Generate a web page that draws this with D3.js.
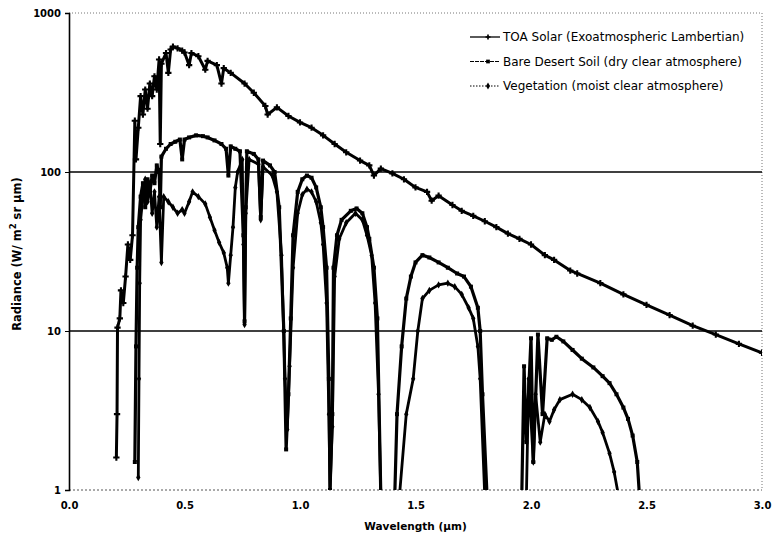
<!DOCTYPE html>
<html>
<head>
<meta charset="utf-8">
<script src="https://cdn.jsdelivr.net/npm/d3@7"></script>
<style>
  body { margin: 0; background: #fff; }
  text { font-family: "DejaVu Sans", Verdana, sans-serif; }
</style>
</head>
<body>
<svg class="chart"></svg>
<script>
// Series data (wavelength in um, radiance)
// values under 1 sit below the axis: the curve drops out of the plot there
var toaWl = [0.205, 0.208, 0.21, 0.22, 0.225, 0.235, 0.245, 0.255, 0.265, 0.275, 0.285, 0.29, 0.30, 0.31, 0.32, 0.33, 0.34, 0.35, 0.36, 0.37, 0.38, 0.39, 0.395, 0.40, 0.42, 0.43, 0.44, 0.45, 0.47, 0.49, 0.50, 0.52, 0.53, 0.56, 0.59, 0.60, 0.64, 0.66, 0.67, 0.70, 0.76, 0.80, 0.85, 0.86, 0.90, 0.95, 1.00, 1.05, 1.10, 1.15, 1.20, 1.26, 1.30, 1.32, 1.35, 1.40, 1.45, 1.50, 1.55, 1.57, 1.60, 1.66, 1.70, 1.75, 1.80, 1.85, 1.90, 1.95, 2.00, 2.06, 2.10, 2.17, 2.20, 2.30, 2.40, 2.50, 2.60, 2.70, 2.80, 2.90, 3.00];
var toaVal = [1.6, 3, 10.5, 12, 18, 15, 22, 35, 28, 40, 210, 120, 190, 300, 230, 330, 250, 360, 300, 400, 330, 510, 150, 480, 560, 420, 590, 615, 600, 580, 565, 470, 560, 535, 440, 500, 470, 360, 450, 420, 360, 315, 260, 230, 255, 225, 205, 190, 170, 150, 133, 118, 110, 95, 105, 98, 90, 80, 75, 66, 71, 62, 57, 53, 49, 45, 41, 38, 35, 30, 28, 24, 23, 20, 17, 14.6, 12.6, 10.8, 9.5, 8.3, 7.3];

var soilWl = [0.285, 0.29, 0.295, 0.30, 0.31, 0.32, 0.33, 0.34, 0.35, 0.36, 0.37, 0.38, 0.39, 0.395, 0.40, 0.42, 0.44, 0.46, 0.48, 0.49, 0.50, 0.52, 0.55, 0.58, 0.60, 0.63, 0.66, 0.68, 0.69, 0.70, 0.72, 0.74, 0.755, 0.76, 0.765, 0.77, 0.80, 0.82, 0.83, 0.84, 0.87, 0.89, 0.91, 0.93, 0.94, 0.95, 0.96, 0.97, 0.99, 1.01, 1.03, 1.05, 1.07, 1.09, 1.10, 1.115, 1.125, 1.13, 1.14, 1.145, 1.16, 1.18, 1.22, 1.245, 1.27, 1.29, 1.30, 1.32, 1.335, 1.35, 1.41, 1.42, 1.44, 1.46, 1.48, 1.50, 1.53, 1.56, 1.60, 1.64, 1.68, 1.71, 1.74, 1.77, 1.78, 1.79, 1.81, 1.96, 1.97, 1.98, 2.00, 2.01, 2.03, 2.05, 2.07, 2.09, 2.11, 2.14, 2.18, 2.22, 2.27, 2.31, 2.34, 2.37, 2.40, 2.42, 2.44, 2.46, 2.47];
var soilVal = [1.5, 8, 25, 45, 70, 85, 60, 90, 75, 95, 85, 110, 100, 60, 125, 140, 150, 155, 160, 120, 160, 165, 170, 168, 165, 158, 150, 140, 95, 145, 140, 135, 40, 11.5, 60, 135, 130, 120, 52, 118, 110, 100, 60, 10, 1.8, 4, 12, 40, 75, 90, 95, 92, 80, 60, 45, 25, 5, 1, 3, 25, 40, 50, 57, 59, 55, 45, 38, 25, 12, 0.9, 0.9, 3, 8, 16, 22, 27, 30, 29, 27, 25, 23, 22, 19, 14, 10, 4, 0.9, 0.9, 6, 2, 9, 1.5, 9.5, 3, 9, 8.8, 9.2, 8.6, 7.6, 6.7, 5.9, 5.2, 4.7, 4, 3.3, 2.8, 2.2, 1.5, 0.9];

var vegWl = [0.30, 0.303, 0.306, 0.31, 0.32, 0.33, 0.34, 0.35, 0.36, 0.37, 0.38, 0.39, 0.40, 0.41, 0.43, 0.45, 0.47, 0.49, 0.50, 0.52, 0.535, 0.56, 0.59, 0.61, 0.63, 0.65, 0.67, 0.685, 0.69, 0.70, 0.71, 0.72, 0.73, 0.75, 0.755, 0.76, 0.765, 0.78, 0.82, 0.83, 0.84, 0.88, 0.90, 0.92, 0.935, 0.945, 0.955, 0.97, 0.99, 1.01, 1.03, 1.05, 1.07, 1.09, 1.10, 1.115, 1.125, 1.13, 1.14, 1.15, 1.17, 1.20, 1.24, 1.27, 1.29, 1.31, 1.325, 1.34, 1.35, 1.43, 1.46, 1.49, 1.51, 1.53, 1.56, 1.60, 1.64, 1.67, 1.70, 1.73, 1.75, 1.77, 1.78, 1.80, 1.98, 1.99, 2.01, 2.02, 2.04, 2.06, 2.08, 2.10, 2.125, 2.18, 2.22, 2.255, 2.29, 2.31, 2.34, 2.36, 2.38];
var vegVal = [1.2, 5, 20, 50, 70, 90, 65, 85, 55, 75, 45, 70, 27, 70, 65, 60, 55, 58, 55, 65, 75, 70, 63, 52, 43, 36, 31, 25, 20, 30, 45, 80, 100, 120, 35, 11, 55, 120, 112, 50, 108, 95, 75, 30, 5, 2.4, 6, 25, 55, 72, 78, 75, 65, 48, 35, 15, 3, 1, 2.5, 22, 38, 48, 55, 50, 40, 30, 15, 4, 0.9, 0.9, 3, 5, 10, 16, 18, 19.5, 20, 19, 17, 14, 12, 8, 5, 0.9, 0.9, 5, 1.5, 4, 2, 3, 2.7, 3.2, 3.7, 4, 3.7, 3.3, 2.7, 2.3, 1.7, 1.3, 0.9];

var seriesNames = ["TOA Solar (Exoatmospheric Lambertian)", "Bare Desert Soil (dry clear atmosphere)", "Vegetation (moist clear atmosphere)"];
var xTicks = [0, 0.5, 1.0, 1.5, 2.0, 2.5, 3.0];
var yTicks = [1, 10, 100, 1000];

var svgWidth = 772, svgHeight = 538;
var plotLeft = 69, plotRight = 762, plotTop = 13, plotBottom = 490;

var svg = d3.select(".chart")
    .attr("width", svgWidth)
    .attr("height", svgHeight);

var xScale = d3.scaleLinear()
    .domain([0, 3])
    .range([plotLeft, plotRight]);

var yScale = d3.scaleLog()
    .domain([1, 1000])
    .range([plotBottom, plotTop]);

svg.append("clipPath").attr("id", "plot")
    .append("rect")
    .attr("x", plotLeft).attr("y", plotTop - 2)
    .attr("width", plotRight - plotLeft).attr("height", plotBottom - plotTop + 2);

// frame: dotted top / right / bottom, solid left axis
svg.append("line")
    .attr("x1", plotLeft).attr("x2", plotRight)
    .attr("y1", plotTop).attr("y2", plotTop)
    .attr("stroke", "#777").attr("stroke-dasharray", "1,2");
svg.append("line")
    .attr("x1", plotRight).attr("x2", plotRight)
    .attr("y1", plotTop).attr("y2", plotBottom)
    .attr("stroke", "#777").attr("stroke-dasharray", "1,2");
svg.append("line")
    .attr("x1", plotLeft).attr("x2", plotRight)
    .attr("y1", plotBottom).attr("y2", plotBottom)
    .attr("stroke", "#555").attr("stroke-dasharray", "2,2");

// gridlines at 10 and 100
svg.selectAll(".grid")
    .data([10, 100])
    .enter()
    .append("line")
    .attr("class", "grid")
    .attr("x1", plotLeft).attr("x2", plotRight)
    .attr("y1", function(d) { return yScale(d); })
    .attr("y2", function(d) { return yScale(d); })
    .attr("stroke", "#000")
    .attr("stroke-width", 1.5);

// axes
var y_axis = d3.axisLeft(yScale)
    .tickValues(yTicks)
    .tickFormat(d3.format("d"))
    .tickSize(4)
    .tickPadding(4);

var gy = svg.append("g")
    .attr("transform", "translate(" + plotLeft + ",0)")
    .call(y_axis);
gy.select(".domain").attr("stroke-width", 1.6);
gy.selectAll("text").style("font-size", "10px").style("font-weight", "bold");

var x_axis = d3.axisBottom(xScale)
    .tickValues(xTicks)
    .tickFormat(d3.format(".1f"))
    .tickSize(0)
    .tickPadding(12);

var gx = svg.append("g")
    .attr("transform", "translate(0," + plotBottom + ")")
    .call(x_axis);
gx.select(".domain").remove();
gx.selectAll("text").style("font-size", "10px").style("font-weight", "bold");

// axis titles
svg.append("text")
    .attr("x", (plotLeft + plotRight) / 2)
    .attr("y", 530)
    .attr("text-anchor", "middle")
    .style("font-size", "10.5px")
    .style("font-weight", "bold")
    .text("Wavelength (\u00b5m)");

var yTitle = svg.append("text")
    .attr("transform", "translate(21," + 254 + ") rotate(-90)")
    .attr("text-anchor", "middle")
    .style("font-size", "11.5px")
    .style("font-weight", "bold");
yTitle.append("tspan").text("Radiance (W/ m");
yTitle.append("tspan").attr("dy", -5).style("font-size", "8.5px").text("2");
yTitle.append("tspan").attr("dy", 5).text(" sr \u00b5m)");

// curves (dense measured data looks solid in the plot, dashes only show in the legend)
var series = [
  { wl: toaWl, val: toaVal, dash: null, width: 3, sym: d3.symbolCross, size: 22 },
  { wl: soilWl, val: soilVal, dash: "4,1", width: 3.2, sym: d3.symbolSquare, size: 16 },
  { wl: vegWl, val: vegVal, dash: "1.5,1.5", width: 2.8, sym: d3.symbolDiamond, size: 16 }
];

var line = d3.line()
    .x(function(d) { return xScale(d[0]); })
    .y(function(d) { return yScale(d[1]); });

var plot = svg.append("g").attr("clip-path", "url(#plot)");

series.forEach(function(s) {
  var pts = s.wl.map(function(w, i) { return [w, s.val[i]]; });
  plot.append("path")
      .datum(pts)
      .attr("d", line)
      .attr("fill", "none")
      .attr("stroke", "#000")
      .attr("stroke-width", s.width)
      .attr("stroke-linejoin", "round");
  plot.selectAll(null)
      .data(pts)
      .enter()
      .append("path")
      .attr("d", d3.symbol().type(s.sym).size(s.size))
      .attr("transform", function(d) {
        return "translate(" + xScale(d[0]) + "," + yScale(d[1]) + ")";
      })
      .attr("fill", "#000");
});

// legend
var legend = svg.selectAll(".legend")
    .data(seriesNames)
    .enter()
    .append("g")
    .attr("class", "legend")
    .attr("transform", function(d, i) {
      return "translate(470," + (37 + i * 24.5) + ")";
    });

legend.append("line")
    .attr("x1", 0).attr("x2", 30)
    .attr("stroke", "#000")
    .attr("stroke-width", function(d, i) { return i == 0 ? 1.3 : 1; })
    .attr("stroke-dasharray", function(d, i) { return series[i].dash; });

legend.append("path")
    .attr("transform", "translate(18,0)")
    .attr("d", function(d, i) { return d3.symbol().type(series[i].sym).size(14)(); })
    .attr("fill", "#000");

legend.append("text")
    .attr("x", 33)
    .attr("dy", "0.35em")
    .style("font-size", "12px")
    .text(function(d) { return d; });
</script>
</body>
</html>
